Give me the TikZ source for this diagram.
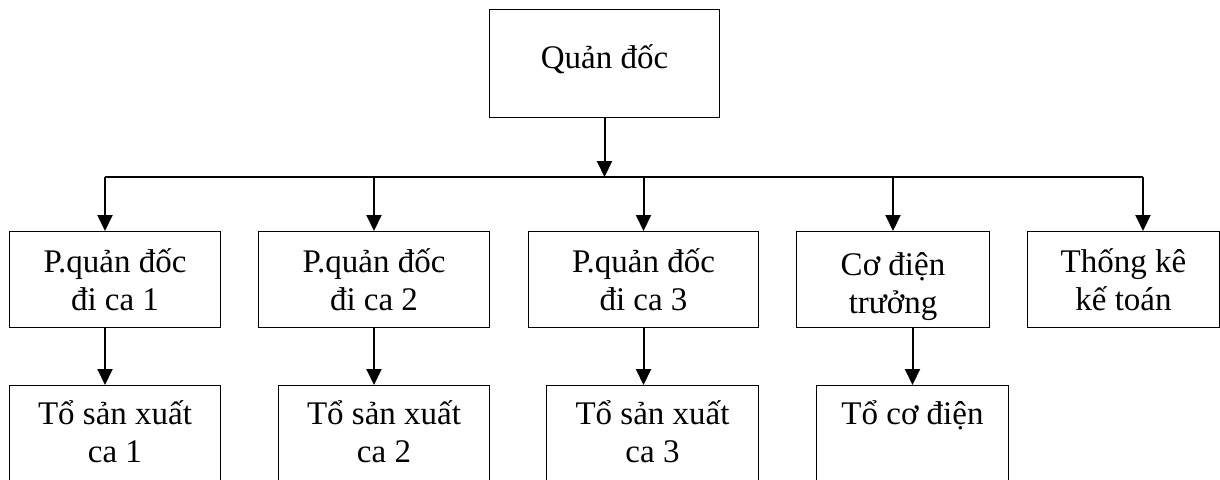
\documentclass[tikz,border=0pt]{standalone}
\usepackage{fontspec}
\setmainfont{Liberation Serif}
\usetikzlibrary{arrows.meta}

\tikzset{
  box/.style={draw, line width=1pt, anchor=north west, align=center, inner xsep=0pt, inner ysep=0pt,
    font=\fontsize{33}{38}\selectfont},
  lowbox/.style={box, inner ysep=15pt},
  arr/.style={line width=2pt, -{Triangle[width=15pt,length=16pt]}},
  bus/.style={line width=1.2pt},
}

\begin{document}
\begin{tikzpicture}[x=1pt,y=-1pt]
  \useasboundingbox (0,0) rectangle (1220,479);
  \clip (0,0) rectangle (1220,479);

  % head
  \node[box, minimum width=230, minimum height=108, text height=25pt, text depth=15pt] (qd) at (489,9) {Quản đốc};

  % first row
  \node[box, minimum width=211, minimum height=96] (p1) at (9,231) {P.quản đốc\\đi ca 1};
  \node[box, minimum width=231, minimum height=96] (p2) at (258,231) {P.quản đốc\\đi ca 2};
  \node[box, minimum width=230, minimum height=96] (p3) at (528,231) {P.quản đốc\\đi ca 3};
  \node[box, minimum width=193, minimum height=96] (p4) at (796,231) {\rule{0pt}{38pt}Cơ điện\\trưởng};
  \node[box, minimum width=192, minimum height=96] (p5) at (1027,231) {Thống kê\\kế toán};

  % second row (runs past the lower edge)
  \node[lowbox, minimum width=211] (t1) at (9,385) {Tổ sản xuất\\ca 1\\~};
  \node[lowbox, minimum width=211] (t2) at (278,385) {Tổ sản xuất\\ca 2\\~};
  \node[lowbox, minimum width=212] (t3) at (546,385) {Tổ sản xuất\\ca 3\\~};
  \node[lowbox, minimum width=192] (t4) at (816,385) {Tổ cơ điện\\~\\~};

  % bus line
  \coordinate (busL) at (105,177);
  \coordinate (busR) at (1143,177);
  \draw[bus] (busL) -- (busR);
  \draw[arr] (qd.south) -- (qd.south |- busL);

  \draw[arr] (busL) -- (busL |- p1.north);
  \draw[arr] (p2.north |- busL) -- (p2.north);
  \draw[arr] (p3.north |- busL) -- (p3.north);
  \draw[arr] (p4.north |- busL) -- (p4.north);
  \draw[arr] (busR) -- (busR |- p5.north);

  \draw[arr] (busL |- p1.south) -- (busL |- t1.north);
  \draw[arr] (p2.south) -- (p2.south |- t2.north);
  \draw[arr] (p3.south) -- (p3.south |- t3.north);
  \draw[arr] (t4.north |- p4.south) -- (t4.north);
\end{tikzpicture}
\end{document}
